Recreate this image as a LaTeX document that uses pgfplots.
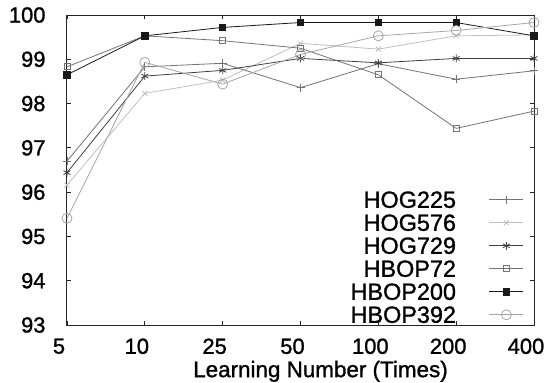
\documentclass[border=0pt]{standalone}
\usepackage{fontspec}
\setmainfont{Liberation Sans}[FakeBold=1.2]
\usepackage{pgfplots}
\pgfplotsset{compat=1.18}
\begin{document}
\begin{tikzpicture}
\begin{axis}[
 at={(0,0)}, anchor=south west,
 scale only axis, width=467bp, height=310bp,
 xmin=0, xmax=6, ymin=93, ymax=100,
 xtick={0,...,6}, xticklabels={5,10,25,50,100,200,400},
 ytick={93,...,100},
 tick align=inside, major tick length=4bp,
 axis line style={draw=black!85, line width=1bp},
 tick style={black!85, line width=0.8bp},
 ticklabel style={font=\fontsize{22}{22}\selectfont},
 yticklabel style={xshift=-18bp},
 xticklabel style={yshift=-10bp, xshift=-8bp},
 /pgf/number format/assume math mode=true,
 xlabel={Learning Number (Times)},
 xlabel style={font=\fontsize{22.5}{22.5}\selectfont, yshift=0bp, xshift=20bp},
 legend style={at={(0.985,0.0)}, anchor=south east, draw=none, fill=none,
   font=\fontsize{23.5}{23.5}\selectfont,
   nodes={inner sep=0pt, text height=16bp, text depth=0pt},
   row sep=7bp, column sep=33bp},
 legend plot pos=right, legend cell align=right,
 legend image code/.code={\draw[mark repeat=2, mark phase=2] plot coordinates {(0bp,0bp)(17bp,0bp)(34bp,0bp)};},
]
\addplot[color=black!55, line width=0.8bp, mark=+, mark size=4bp] coordinates {(0,96.7)(1,98.83)(2,98.91)(3,98.36)(4,98.9)(5,98.55)(6,98.74)};
\addlegendentry{HOG225}
\addplot[color=black!25, line width=0.8bp, mark=x, mark size=3.5bp] coordinates {(0,96.16)(1,98.23)(2,98.53)(3,99.36)(4,99.23)(5,99.53)(6,99.55)};
\addlegendentry{HOG576}
\addplot[color=black!75, line width=0.8bp, mark=asterisk, mark size=4bp] coordinates {(0,96.44)(1,98.62)(2,98.75)(3,99.02)(4,98.92)(5,99.02)(6,99.02)};
\addlegendentry{HOG729}
\addplot[color=black!55, line width=0.8bp, mark=square, mark size=3bp] coordinates {(0,98.83)(1,99.53)(2,99.42)(3,99.25)(4,98.65)(5,97.44)(6,97.83)};
\addlegendentry{HBOP72}
\addplot[color=black!90, line width=0.8bp, mark=square*, mark size=3.2bp, mark options={fill=black!90}] coordinates {(0,98.65)(1,99.53)(2,99.72)(3,99.83)(4,99.83)(5,99.83)(6,99.53)};
\addlegendentry{HBOP200}
\addplot[color=black!35, line width=0.8bp, mark=o, mark size=5bp] coordinates {(0,95.41)(1,98.93)(2,98.44)(3,99.11)(4,99.53)(5,99.65)(6,99.83)};
\addlegendentry{HBOP392}
\end{axis}
\pgfresetboundingbox
\path (-67bp,-58bp) rectangle (479bp,325bp);
\end{tikzpicture}
\end{document}
